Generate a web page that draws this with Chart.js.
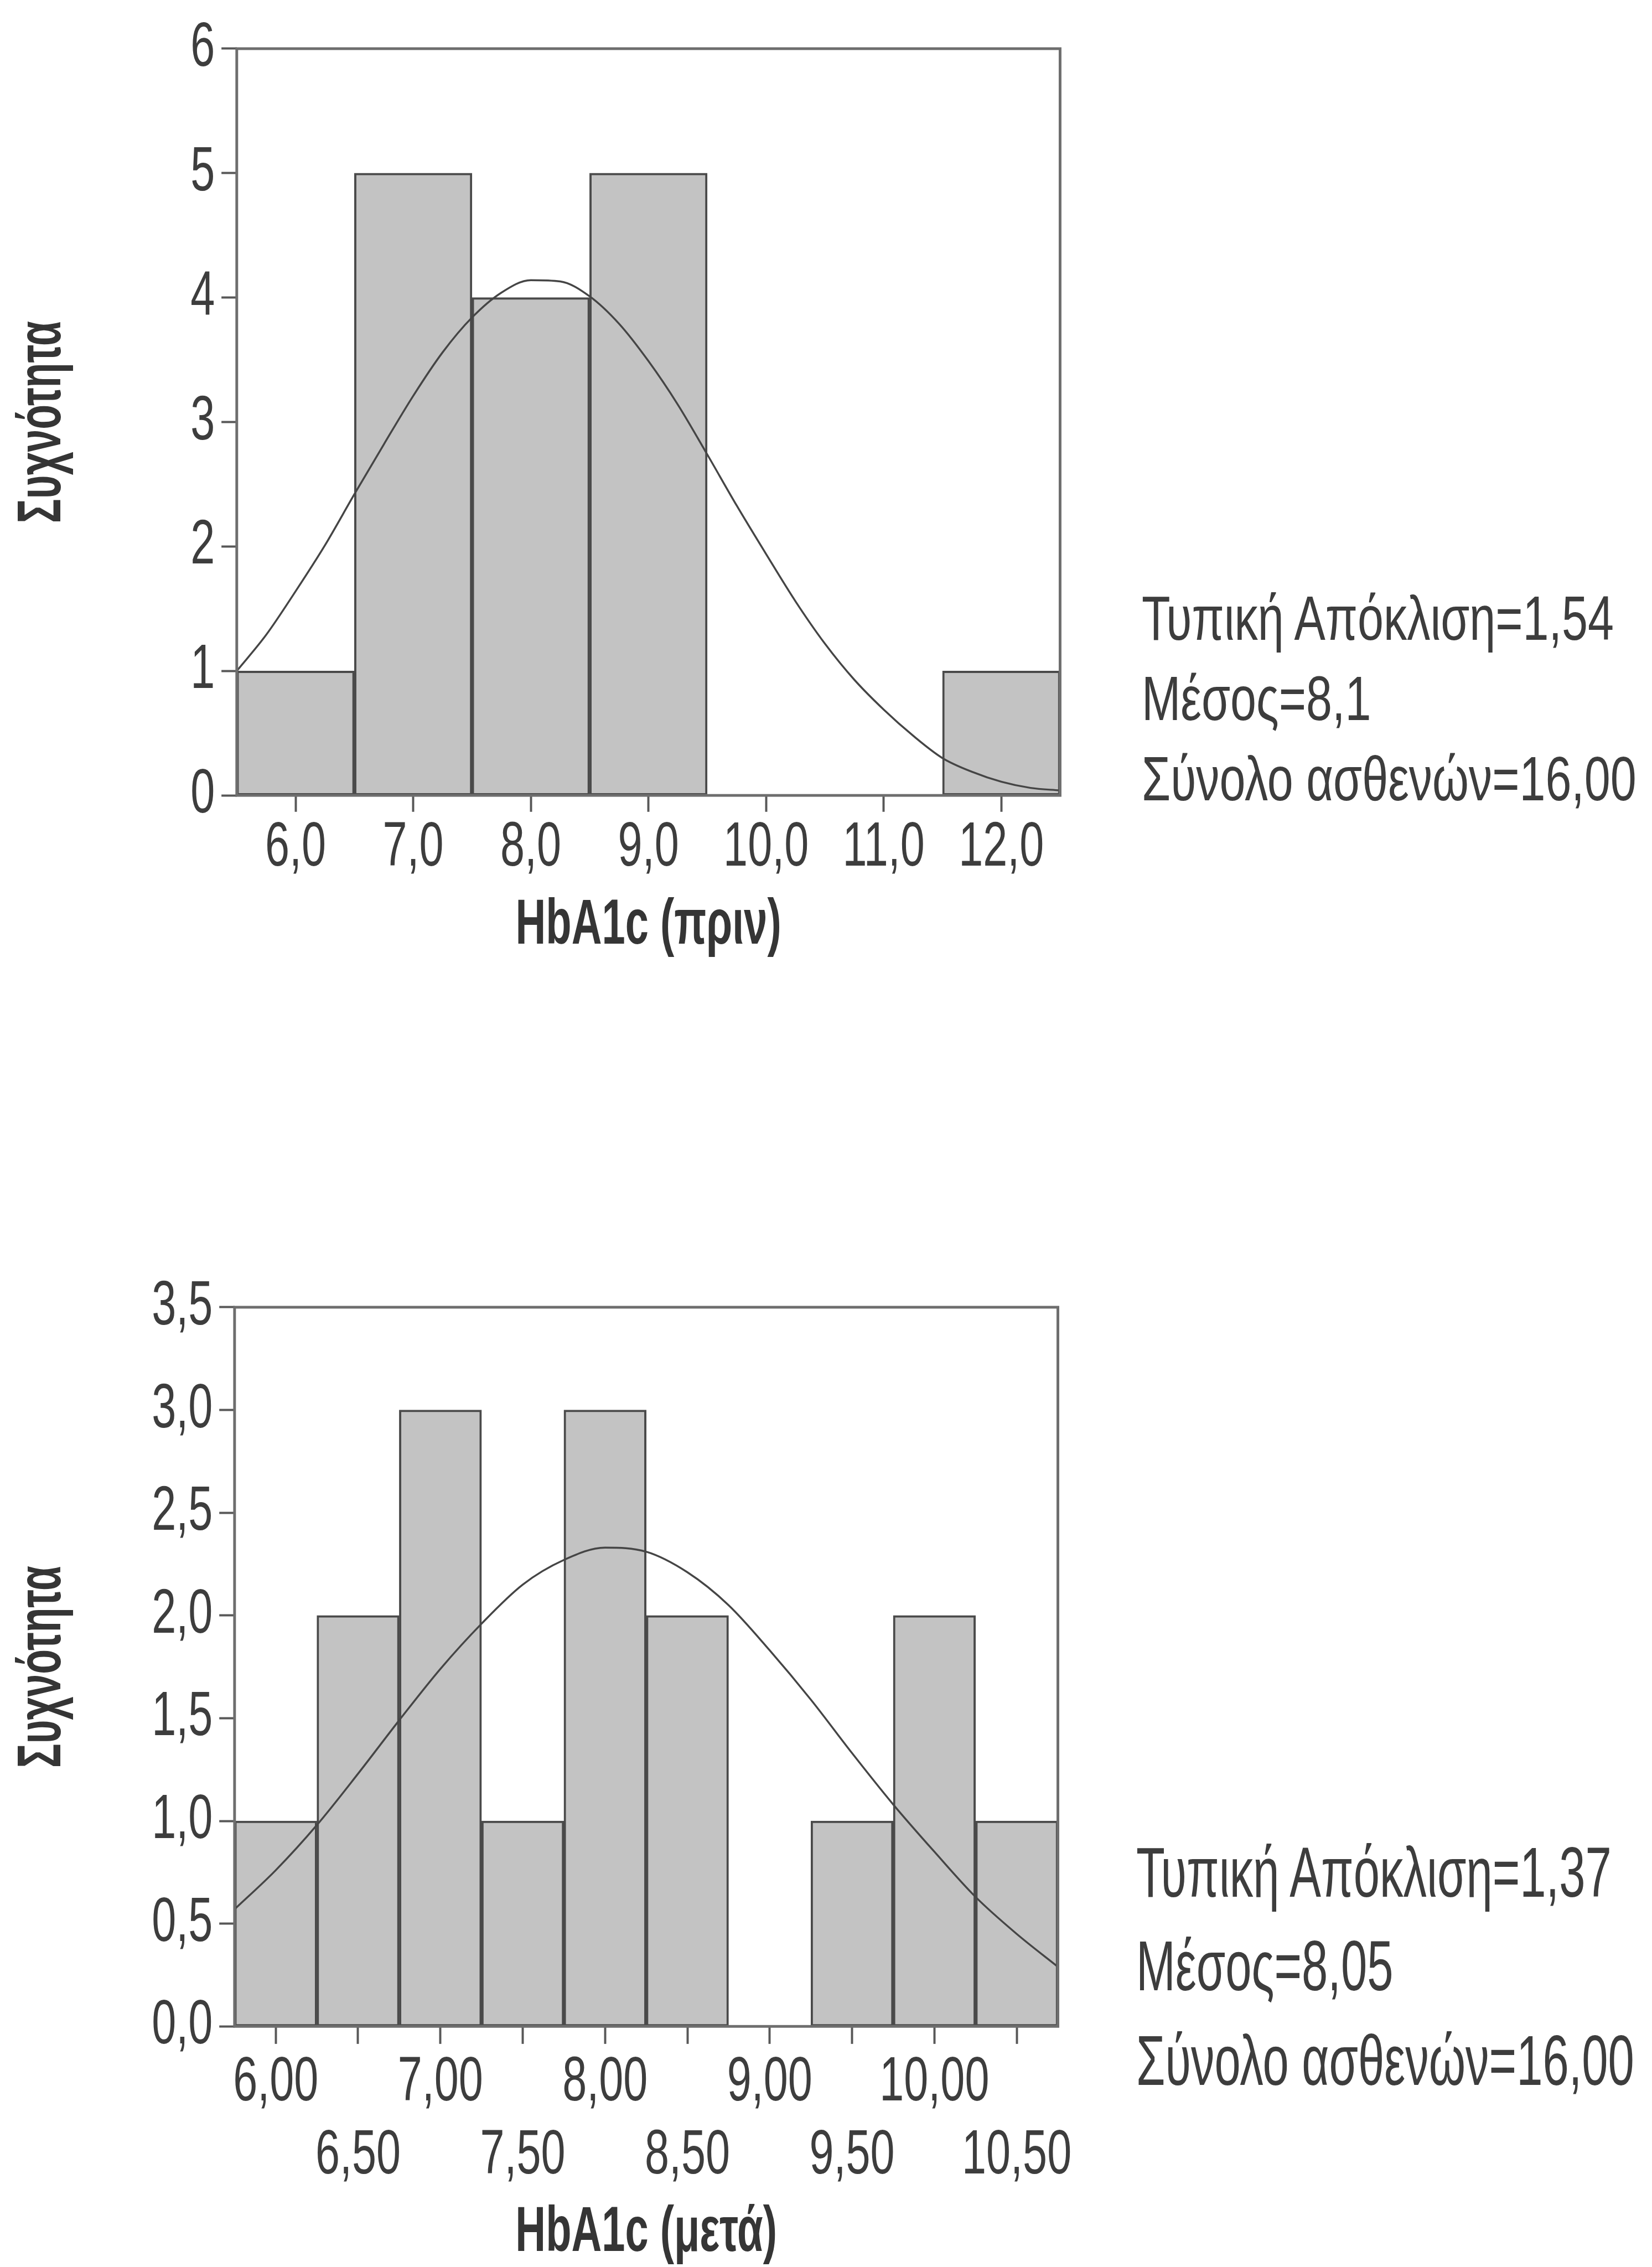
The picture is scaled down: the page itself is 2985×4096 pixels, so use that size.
<!DOCTYPE html>
<html>
<head>
<meta charset="utf-8">
<script src="https://cdn.jsdelivr.net/npm/chart.js@4.4.1/dist/chart.umd.min.js"></script>
<style>
  html, body { margin: 0; padding: 0; background: #fff; }
  body { width: 2985px; height: 4096px; position: relative; overflow: hidden;
         font-family: 'Liberation Sans', Arial, sans-serif; }
  canvas { position: absolute; left: 0; }
  .stats { position: absolute; color: #3d3d3d; white-space: nowrap; transform-origin: 0 0; }
</style>
</head>
<body>
<canvas id="prin"></canvas>
<canvas id="meta"></canvas>
<div id="stats-prin" class="stats"></div>
<div id="stats-meta" class="stats"></div>
<script>
const S = 0.988;              // reference px -> page px
const s = v => v * S;
const FONT = "'Liberation Sans', Arial, sans-serif";

// HbA1c (πριν)
const binsPrin = [6, 7, 8, 9, 10, 11, 12];
const countsPrin = [1, 5, 4, 5, 0, 0, 1];
const xTicksPrin = [6, 7, 8, 9, 10, 11, 12];
const xLabelsPrin = ['6,0', '7,0', '8,0', '9,0', '10,0', '11,0', '12,0'];
const yTicksPrin = [0, 1, 2, 3, 4, 5, 6];
const yLabelsPrin = ['0', '1', '2', '3', '4', '5', '6'];
const curvePrinX = [5.5, 5.75, 6, 6.25, 6.5, 6.75, 7, 7.25, 7.5, 7.75, 8, 8.25, 8.5, 8.75, 9,
                    9.25, 9.5, 9.75, 10, 10.25, 10.5, 10.75, 11, 11.25, 11.5, 11.75, 12, 12.25, 12.5];
const curvePrinY = [1.00, 1.29, 1.64, 2.01, 2.42, 2.82, 3.21, 3.56, 3.84, 4.04, 4.14, 4.13, 4.01, 3.79, 3.49,
                    3.14, 2.74, 2.33, 1.94, 1.56, 1.22, 0.93, 0.69, 0.48, 0.30, 0.19, 0.11, 0.06, 0.04];
const statsPrin = ['Τυπική Απόκλιση=1,54', 'Μέσος=8,1', 'Σύνολο ασθενών=16,00'];

// HbA1c (μετά)
const binsMeta = [6, 6.5, 7, 7.5, 8, 8.5, 9, 9.5, 10, 10.5];
const countsMeta = [1, 2, 3, 1, 3, 2, 0, 1, 2, 1];
const xTicksMeta = [6, 6.5, 7, 7.5, 8, 8.5, 9, 9.5, 10, 10.5];
const xLabelsMeta = ['6,00', '6,50', '7,00', '7,50', '8,00', '8,50', '9,00', '9,50', '10,00', '10,50'];
const yTicksMeta = [0, 0.5, 1, 1.5, 2, 2.5, 3, 3.5];
const yLabelsMeta = ['0,0', '0,5', '1,0', '1,5', '2,0', '2,5', '3,0', '3,5'];
const curveMetaX = [5.75, 6, 6.25, 6.5, 6.75, 7, 7.25, 7.5, 7.75, 8, 8.25,
                    8.5, 8.75, 9, 9.25, 9.5, 9.75, 10, 10.25, 10.5, 10.75];
const curveMetaY = [0.57, 0.76, 0.98, 1.23, 1.49, 1.74, 1.96, 2.15, 2.27, 2.33, 2.31,
                    2.21, 2.05, 1.83, 1.59, 1.33, 1.08, 0.85, 0.63, 0.45, 0.29];
const statsMeta = ['Τυπική Απόκλιση=1,37', 'Μέσος=8,05', 'Σύνολο ασθενών=16,00'];

// the printed type is a condensed face; measure ours and squeeze it to the printed widths
const mctx = document.createElement('canvas').getContext('2d');
function emWidth(text, weight) {
  mctx.font = weight + ' 100px ' + FONT;
  return mctx.measureText(text).width / 100;
}
const K_REG = (156 / 114) / emWidth('10,0', 'normal');
const K_BOLD = (486 / 116) / emWidth('HbA1c (πριν)', 'bold');

const condensed = {
  id: 'condensed',
  beforeInit(chart) {
    const ctx = chart.ctx;
    const fill = CanvasRenderingContext2D.prototype.fillText;
    ctx.fillText = function (text, x, y) {
      const k = /bold/.test(this.font) ? K_BOLD : K_REG;
      this.save();
      this.translate(x, y);
      this.scale(k, 1);
      fill.call(this, text, 0, 0);
      this.restore();
    };
  }
};

// box round the plot area
const frame = {
  id: 'frame',
  afterDatasetsDraw(chart) {
    const { ctx, chartArea: a } = chart;
    ctx.save();
    ctx.strokeStyle = '#6e6e6e';
    ctx.lineWidth = s(5);
    ctx.strokeRect(a.left, a.top, a.right - a.left, a.bottom - a.top);
    ctx.restore();
  }
};

function histogram(id, c) {
  const el = document.getElementById(id);
  el.width = Math.round(s(c.w));
  el.height = Math.round(s(c.h));
  el.style.top = s(c.top) + 'px';

  const tickFont = { family: FONT, size: s(114), lineHeight: 1.175 };
  const tickGrid = (len) => ({
    drawOnChartArea: false, drawTicks: true, offset: false,
    tickLength: s(len), tickColor: '#585858', tickWidth: s(4), color: '#585858'
  });

  return new Chart(el, {
    type: 'bar',
    data: {
      datasets: [
        {
          type: 'line', order: 0,
          data: c.curveX.map((x, i) => ({ x, y: c.curveY[i] })),
          borderColor: '#454545', borderWidth: s(3.5),
          pointRadius: 0, fill: false, cubicInterpolationMode: 'monotone'
        },
        {
          type: 'bar', order: 1,
          data: c.bins.map((x, i) => ({ x, y: c.counts[i] })),
          backgroundColor: '#c3c3c3', borderColor: '#4a4a4a',
          borderWidth: s(4), borderSkipped: false,
          barPercentage: 1, categoryPercentage: 1
        }
      ]
    },
    options: {
      responsive: false,
      animation: false,
      events: [],
      layout: { padding: { top: s(c.padTop), right: s(c.padRight), bottom: 0, left: 0 } },
      plugins: { legend: { display: false }, tooltip: { enabled: false } },
      scales: {
        x: {
          type: 'linear', min: c.xMin, max: c.xMax, offset: false,
          grid: tickGrid(c.xTickLen),
          border: { display: false },
          afterBuildTicks: sc => { sc.ticks = c.xTicks.map(v => ({ value: v })); },
          afterFit: sc => { sc.height = s(c.xAxisH); },
          ticks: {
            autoSkip: false, maxRotation: 0, minRotation: 0,
            padding: s(c.xTickPad), color: '#3d3d3d', font: tickFont,
            callback: c.xLabel
          },
          title: {
            display: true, text: c.xTitle, color: '#353535',
            font: { family: FONT, size: s(116), weight: 'bold', lineHeight: 1 },
            padding: { top: 0, bottom: s(c.xTitlePad) }
          }
        },
        y: {
          min: c.yTicks[0], max: c.yTicks[c.yTicks.length - 1],
          grid: tickGrid(28),
          border: { display: false },
          afterBuildTicks: sc => { sc.ticks = c.yTicks.map(v => ({ value: v })); },
          afterFit: sc => { sc.width = s(c.yAxisW); },
          ticks: {
            padding: s(12), color: '#3d3d3d', font: tickFont,
            callback: (v, i) => c.yLabels[i]
          },
          title: {
            display: true, text: 'Συχνότητα', color: '#353535',
            font: { family: FONT, size: s(112), weight: 'bold', lineHeight: 1 },
            padding: { top: s(23), bottom: 0 }
          }
        }
      }
    },
    plugins: [condensed, frame]
  });
}

histogram('prin', {
  top: 0, w: 2060, h: 1800, padTop: 89, padRight: 121,
  yAxisW: 433, xAxisH: 345, xTickLen: 30, xTickPad: 0, xTitlePad: 48,
  xMin: 5.5, xMax: 12.5,
  bins: binsPrin, counts: countsPrin,
  curveX: curvePrinX, curveY: curvePrinY,
  xTicks: xTicksPrin, yTicks: yTicksPrin, yLabels: yLabelsPrin,
  xLabel: (v, i) => xLabelsPrin[i],
  xTitle: 'HbA1c (πριν)'
});

histogram('meta', {
  top: 2300, w: 2060, h: 1845, padTop: 91, padRight: 125,
  yAxisW: 429, xAxisH: 439, xTickLen: 32, xTickPad: 5, xTitlePad: 2,
  xMin: 5.75, xMax: 10.75,
  bins: binsMeta, counts: countsMeta,
  curveX: curveMetaX, curveY: curveMetaY,
  xTicks: xTicksMeta, yTicks: yTicksMeta, yLabels: yLabelsMeta,
  // labels alternate between two rows
  xLabel: (v, i) => i % 2 === 0 ? xLabelsMeta[i] : ['', xLabelsMeta[i]],
  xTitle: 'HbA1c (μετά)'
});

// statistics beside each histogram
function statsBlock(id, lines, left, top, lineH, firstLineW, stretchY) {
  const d = document.getElementById(id);
  const kx = firstLineW / (emWidth(lines[0], 'normal') * 114);
  d.style.left = s(left) + 'px';
  d.style.top = s(top) + 'px';
  d.style.fontSize = s(114) + 'px';
  d.style.lineHeight = s(lineH) + 'px';
  d.style.transform = 'scale(' + kx + ',' + stretchY + ')';
  d.innerHTML = lines.map(t => '<div>' + t + '</div>').join('');
}
statsBlock('stats-prin', statsPrin, 2088, 1058, 146.5, 868, 1);
statsBlock('stats-meta', statsMeta, 2078, 3338, 152.2, 874, 1.13);
</script>
</body>
</html>
